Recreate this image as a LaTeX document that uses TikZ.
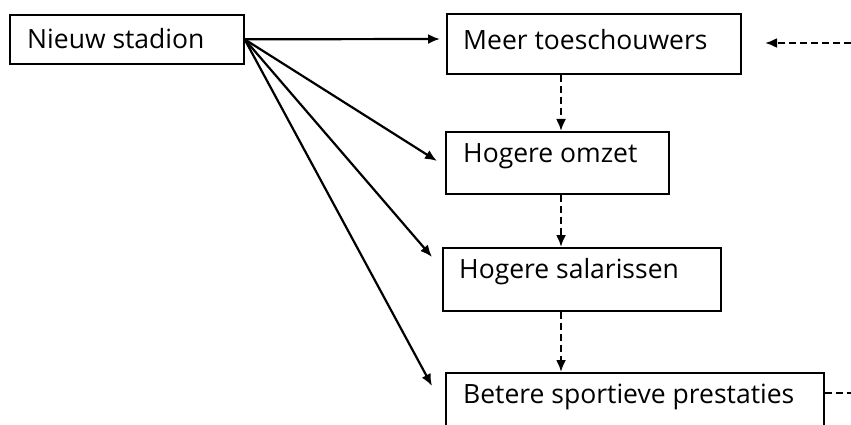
\documentclass[tikz,border=0pt]{standalone}
\usepackage{fontspec}
\setmainfont{Open Sans}
\usetikzlibrary{arrows.meta,calc}
\begin{document}
\begin{tikzpicture}[x=1pt,y=-1pt,
  box/.style={draw,line width=1.6pt,inner sep=0pt,anchor=north west},
  lbl/.style={anchor=west,inner sep=0pt,font=\fontsize{26.5}{30}\selectfont},
  arr/.style={line width=2.2pt,-{Latex[length=12pt,width=10pt]}},
  darr/.style={line width=2.2pt,dash pattern=on 7pt off 4pt,-{Latex[length=12pt,width=10pt]}},
  dline/.style={line width=2.2pt,dash pattern=on 7pt off 4pt}]
\useasboundingbox (0,0) rectangle (851,425);
\clip (0,0) rectangle (851,425);
% boxes
\node[box,minimum width=234pt,minimum height=49pt] (ns) at (9,14) {};
\node[box,minimum width=294pt,minimum height=60pt] (mt) at (446,13) {};
\node[box,minimum width=223pt,minimum height=62pt] (ho) at (445,131) {};
\node[box,minimum width=278pt,minimum height=63pt] (hs) at (442,247) {};
\node[box,minimum width=378pt,minimum height=70pt] (bs) at (445,372) {};
% labels
\node[lbl] (tns) at (27,39) {Nieuw stadion};
\node[lbl] (tmt) at (463,40) {Meer toeschouwers};
\node[lbl] (tho) at (463,156) {Hogere omzet};
\node[lbl] (ths) at (459,272) {Hogere salarissen};
\node[lbl] (tbs) at (463,397) {Betere sportieve prestaties};
% arrow end points
\coordinate (e1) at (440,39);
\coordinate (e2) at (437,161);
\coordinate (e3) at (432,257);
\coordinate (e4) at (432,386);
\coordinate (ra) at (851,43);
\coordinate (rb) at (765,43);
\coordinate (rc) at (851,393);
% solid arrows
\draw[arr] (ns.east) -- (e1);
\draw[arr] (ns.east) -- (e2);
\draw[arr] (ns.east) -- (e3);
\draw[arr] (ns.east) -- (e4);
% dashed vertical arrows
\draw[darr] (mt.south -| 561,0) -- (ho.north -| 561,0);
\draw[darr] (ho.south -| 561,0) -- (hs.north -| 561,0);
\draw[darr] (hs.south -| 561,0) -- (bs.north -| 561,0);
% dashed feedback pieces
\draw[darr] (ra) -- (rb);
\draw[dline] (bs.east |- rc) -- (rc);
\end{tikzpicture}
\end{document}
